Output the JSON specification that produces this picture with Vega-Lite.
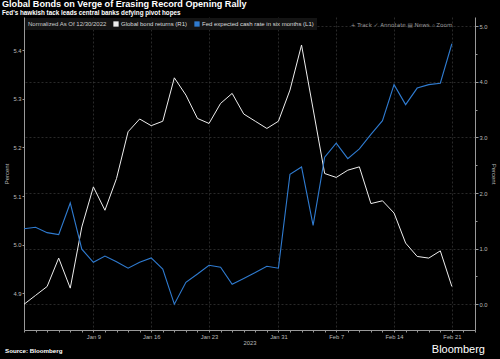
{
  "$schema": "https://vega.github.io/schema/vega-lite/v6.json",
  "autosize": {"type": "none"},
  "width": 451,
  "height": 313,
  "padding": {"left": 24, "top": 17, "right": 25, "bottom": 29},
  "background": "#000000",
  "title": {
    "text": "Global Bonds on Verge of Erasing Record Opening Rally",
    "subtitle": "Fed's hawkish tack leads central banks defying pivot hopes",
    "anchor": "start",
    "frame": "group",
    "dx": -22,
    "offset": 1,
    "font": "Liberation Sans",
    "fontSize": 9.1,
    "fontWeight": "bold",
    "color": "#ffffff",
    "subtitleFont": "Liberation Sans",
    "subtitleFontSize": 6.3,
    "subtitleFontWeight": "bold",
    "subtitleColor": "#ffffff",
    "subtitlePadding": 1
  },
  "datasets": {
    "one": [{}]
  },
  "data": {
    "values": [
      {"date": "2022-12-30", "bond": 0.00, "fed": 5.033},
      {"date": "2023-01-02", "bond": 0.16, "fed": 5.036},
      {"date": "2023-01-03", "bond": 0.32, "fed": 5.025},
      {"date": "2023-01-04", "bond": 0.83, "fed": 5.021},
      {"date": "2023-01-05", "bond": 0.29, "fed": 5.086},
      {"date": "2023-01-06", "bond": 1.39, "fed": 4.991},
      {"date": "2023-01-09", "bond": 2.11, "fed": 4.964},
      {"date": "2023-01-10", "bond": 1.69, "fed": 4.977},
      {"date": "2023-01-11", "bond": 2.26, "fed": 4.965},
      {"date": "2023-01-12", "bond": 3.10, "fed": 4.952},
      {"date": "2023-01-13", "bond": 3.33, "fed": 4.964},
      {"date": "2023-01-16", "bond": 3.21, "fed": 4.973},
      {"date": "2023-01-17", "bond": 3.29, "fed": 4.950},
      {"date": "2023-01-18", "bond": 4.07, "fed": 4.878},
      {"date": "2023-01-19", "bond": 3.76, "fed": 4.923},
      {"date": "2023-01-20", "bond": 3.34, "fed": 4.940},
      {"date": "2023-01-23", "bond": 3.25, "fed": 4.958},
      {"date": "2023-01-24", "bond": 3.61, "fed": 4.954},
      {"date": "2023-01-25", "bond": 3.79, "fed": 4.919},
      {"date": "2023-01-26", "bond": 3.42, "fed": 4.931},
      {"date": "2023-01-27", "bond": 3.29, "fed": 4.943},
      {"date": "2023-01-30", "bond": 3.16, "fed": 4.956},
      {"date": "2023-01-31", "bond": 3.29, "fed": 4.952},
      {"date": "2023-02-01", "bond": 3.85, "fed": 5.145},
      {"date": "2023-02-02", "bond": 4.66, "fed": 5.160},
      {"date": "2023-02-03", "bond": 3.51, "fed": 5.040},
      {"date": "2023-02-06", "bond": 2.35, "fed": 5.180},
      {"date": "2023-02-07", "bond": 2.28, "fed": 5.209},
      {"date": "2023-02-08", "bond": 2.41, "fed": 5.177},
      {"date": "2023-02-09", "bond": 2.47, "fed": 5.197},
      {"date": "2023-02-10", "bond": 1.81, "fed": 5.227},
      {"date": "2023-02-13", "bond": 1.86, "fed": 5.255},
      {"date": "2023-02-14", "bond": 1.64, "fed": 5.329},
      {"date": "2023-02-15", "bond": 1.10, "fed": 5.288},
      {"date": "2023-02-16", "bond": 0.86, "fed": 5.322},
      {"date": "2023-02-17", "bond": 0.83, "fed": 5.329},
      {"date": "2023-02-20", "bond": 0.96, "fed": 5.332},
      {"date": "2023-02-21", "bond": 0.32, "fed": 5.413}
    ]
  },
  "encoding": {
    "x": {
      "field": "date",
      "type": "ordinal",
      "scale": {
        "type": "point",
        "padding": 0,
        "domain": ["2022-12-30","2023-01-02","2023-01-03","2023-01-04","2023-01-05","2023-01-06","2023-01-09","2023-01-10","2023-01-11","2023-01-12","2023-01-13","2023-01-16","2023-01-17","2023-01-18","2023-01-19","2023-01-20","2023-01-23","2023-01-24","2023-01-25","2023-01-26","2023-01-27","2023-01-30","2023-01-31","2023-02-01","2023-02-02","2023-02-03","2023-02-06","2023-02-07","2023-02-08","2023-02-09","2023-02-10","2023-02-13","2023-02-14","2023-02-15","2023-02-16","2023-02-17","2023-02-20","2023-02-21","2023-02-22","2023-02-23"]
      },
      "axis": {
        "title": "2023",
        "titleFont": "Liberation Sans",
        "titleFontSize": 5.8,
        "titleFontWeight": "normal",
        "titleColor": "#bbbbbb",
        "titlePadding": 1,
        "labelExpr": "indexof(['2023-01-09','2023-01-16','2023-01-23','2023-01-31','2023-02-07','2023-02-14','2023-02-21'], datum.value) >= 0 ? utcFormat(toDate(datum.value), '%b %-d') : ''",
        "labelAngle": 0,
        "labelFont": "Liberation Sans",
        "labelFontSize": 5.8,
        "labelColor": "#bbbbbb",
        "labelPadding": 1,
        "labelOverlap": false,
        "tickSize": 2,
        "tickColor": "#999999",
        "domainColor": "#999999",
        "grid": true,
        "gridColor": "#444444",
        "gridDash": [2, 2],
        "gridWidth": 0.6,
        "gridOpacity": {"condition": {"test": "indexof(['2023-01-09','2023-01-16','2023-01-23','2023-01-31','2023-02-07','2023-02-14','2023-02-21'], datum.value) >= 0", "value": 1}, "value": 0}
      }
    }
  },
  "layer": [
    {
      "mark": {"type": "line", "strokeWidth": 1, "interpolate": "linear"},
      "encoding": {
        "y": {
          "field": "bond",
          "type": "quantitative",
          "scale": {"domain": [-0.462, 5.163], "nice": false, "zero": false},
          "axis": {
            "orient": "right",
            "title": "Percent",
            "titleFont": "Liberation Sans",
            "titleFontSize": 6,
            "titleFontWeight": "normal",
            "titleColor": "#bbbbbb",
            "titleAngle": 90,
            "titlePadding": 3,
            "values": [0, 0.5, 1, 1.5, 2, 2.5, 3, 3.5, 4, 4.5, 5],
            "labelExpr": "datum.value % 1 === 0 ? format(datum.value, '.1f') : ''",
            "labelFont": "Liberation Sans",
            "labelFontSize": 5.8,
            "labelColor": "#bbbbbb",
            "labelPadding": 1,
            "tickColor": "#999999",
            "tickSize": {"condition": {"test": "datum.value % 1 === 0", "value": 3}, "value": 2},
            "domainColor": "#999999",
            "grid": true,
            "gridColor": "#444444",
            "gridDash": [2, 2],
            "gridWidth": 0.6,
            "gridOpacity": {"condition": {"test": "datum.value % 1 === 0", "value": 1}, "value": 0}
          }
        },
        "color": {
          "datum": "Global bond returns (R1)",
          "scale": {
            "domain": ["Global bond returns (R1)", "Fed expected cash rate in six months (L1)"],
            "range": ["#eeeeee", "#2f7bd0"]
          },
          "legend": {
            "title": "Normalized As Of 12/30/2022",
            "orient": "top-left",
            "offset": 1,
            "direction": "horizontal",
            "titleOrient": "left",
            "titleFont": "Liberation Sans",
            "titleFontSize": 6,
            "titleFontWeight": "normal",
            "titleColor": "#cccccc",
            "titlePadding": 6,
            "labelFont": "Liberation Sans",
            "labelFontSize": 6,
            "labelColor": "#dddddd",
            "labelOffset": 2,
            "labelLimit": 300,
            "symbolType": "square",
            "symbolSize": 28,
            "columnPadding": 6,
            "fillColor": "#141414",
            "padding": 3,
            "encode": {
              "symbols": {"update": {"fill": {"scale": "color", "field": "value"}, "fillOpacity": {"value": 1}, "strokeWidth": {"value": 0}}}
            }
          }
        }
      }
    },
    {
      "mark": {"type": "line", "strokeWidth": 1.1, "interpolate": "linear"},
      "encoding": {
        "y": {
          "field": "fed",
          "type": "quantitative",
          "scale": {"domain": [4.825, 5.468], "nice": false, "zero": false},
          "axis": {
            "orient": "left",
            "title": "Percent",
            "titleFont": "Liberation Sans",
            "titleFontSize": 6,
            "titleFontWeight": "normal",
            "titleColor": "#bbbbbb",
            "titlePadding": 3,
            "values": [4.9, 5.0, 5.1, 5.2, 5.3, 5.4],
            "format": ".1f",
            "labelFont": "Liberation Sans",
            "labelFontSize": 5.8,
            "labelColor": "#bbbbbb",
            "labelPadding": 1,
            "tickColor": "#999999",
            "tickSize": 2,
            "domainColor": "#999999",
            "grid": false
          }
        },
        "color": {"datum": "Fed expected cash rate in six months (L1)"}
      }
    },
    {
      "data": {"name": "one"},
      "mark": {"type": "text", "font": "DejaVu Sans", "fontSize": 5.6, "fill": "#9a9a9a", "align": "center", "baseline": "middle", "dx": -4},
      "encoding": {
        "x": {"datum": "2023-02-15", "type": "ordinal"},
        "y": {"datum": 5.452, "type": "quantitative", "scale": {"domain": [4.825, 5.468], "nice": false, "zero": false}, "axis": null},
        "text": {"value": "+ Track    ✓ Annotate    ▤ News    ⌕ Zoom"}
      }
    },
    {
      "data": {"name": "one"},
      "mark": {"type": "text", "font": "Liberation Sans", "fontSize": 6.2, "fontWeight": "bold", "fill": "#ffffff", "align": "left", "baseline": "middle", "dx": -19, "dy": 21},
      "encoding": {
        "x": {"datum": "2022-12-30", "type": "ordinal"},
        "y": {"datum": 4.825, "type": "quantitative", "scale": {"domain": [4.825, 5.468], "nice": false, "zero": false}, "axis": null},
        "text": {"value": "Source: Bloomberg"}
      }
    },
    {
      "data": {"name": "one"},
      "mark": {"type": "text", "font": "Liberation Sans", "fontSize": 11, "fill": "#ffffff", "align": "right", "baseline": "middle", "dx": 10, "dy": 20},
      "encoding": {
        "x": {"datum": "2023-02-23", "type": "ordinal"},
        "y": {"datum": 4.825, "type": "quantitative", "scale": {"domain": [4.825, 5.468], "nice": false, "zero": false}, "axis": null},
        "text": {"value": "Bloomberg"}
      }
    }
  ],
  "resolve": {"scale": {"y": "independent"}, "axis": {"y": "independent"}},
  "config": {
    "view": {"stroke": null},
    "font": "Liberation Sans"
  }
}
